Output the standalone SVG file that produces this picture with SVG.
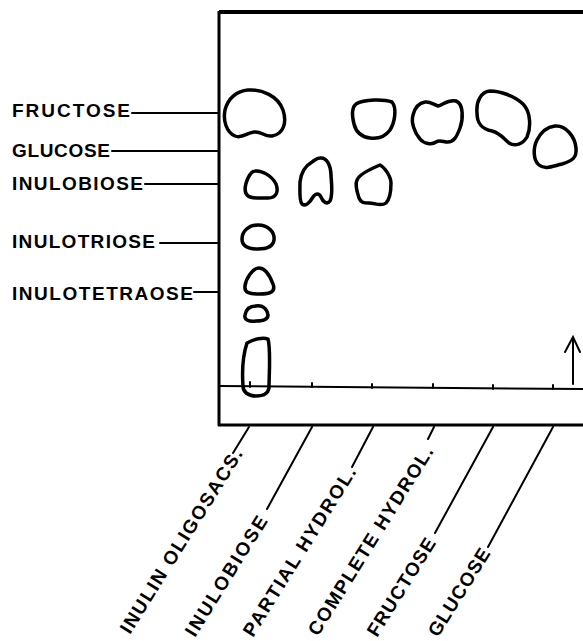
<svg xmlns="http://www.w3.org/2000/svg" width="583" height="641" viewBox="0 0 583 641">
<style>
text{font-family:"Liberation Sans",Arial,sans-serif;font-size:19px;font-weight:bold;fill:#000;}
.ln{stroke:#000;stroke-width:2;fill:none;stroke-linecap:round;}
.box{stroke:#000;stroke-width:3;fill:none;}
.spot{stroke:#000;stroke-width:3.5;fill:none;stroke-linejoin:round;}
</style>
<rect width="583" height="641" fill="#fff"/>
<g id="paper">
<line x1="219" y1="12" x2="583" y2="12" stroke="#000" stroke-width="4"/>
<line class="box" x1="219" y1="11" x2="219" y2="426"/>
<line class="box" x1="218" y1="425" x2="583" y2="425"/>
<line class="ln" x1="219" y1="386" x2="583" y2="389"/>
<path class="ln" d="M312,387v-4M372,388v-4M433,388v-4M493,389v-4M553,389v-4M250,387v-5"/>
<path class="ln" d="M573,384V338M565,352L573,337L580,352"/>
</g>
<g id="spots">
<path class="spot" d="M248,90 C262,89 278,96 283,110 C287,122 284,134 272,136 C264,137 262,131 254,132 C246,133 242,139 235,136 C226,132 223,120 225,110 C228,98 237,91 248,90 Z"/>
<path class="spot" d="M255,171 C262,170 272,176 276,184 C279,192 276,198 268,198 C260,198 252,199 248,196 C243,192 245,185 248,178 C250,174 252,171 255,171 Z"/>
<path class="spot" d="M258,225 C268,225 275,232 274,240 C273,247 266,249 258,249 C249,249 242,247 242,239 C242,231 249,225 258,225 Z"/>
<path class="spot" d="M259,268 C265,268 270,276 273,284 C276,292 270,294 260,294 C250,294 244,293 245,286 C246,278 253,268 259,268 Z"/>
<path class="spot" d="M256,306 C263,305 267,309 268,315 C268,320 262,321 256,321 C249,322 244,320 245,315 C246,309 250,306 256,306 Z"/>
<path class="spot" d="M247,343 C254,339 263,337 268,339 C271,350 269,375 269,388 C268,394 262,396 256,396 C248,396 243,392 243,386 C242,372 243,355 247,343 Z"/>
<path class="spot" d="M320,158 C327,157 331,166 331,176 C332,186 332,197 330,201 C327,205 323,202 321,197 C319,193 316,193 313,197 C310,202 306,207 302,204 C299,201 300,190 300,182 C301,173 305,166 312,162 C315,160 317,158 320,158 Z"/>
<path class="spot" d="M356,104 C364,99 384,99 392,102 C397,108 395,122 390,130 C385,137 378,139 370,138 C362,137 356,132 354,124 C352,116 351,108 356,104 Z"/>
<path class="spot" d="M380,165 C384,167 391,176 391,183 C391,192 389,200 386,203 C381,207 375,203 369,203 C364,203 361,203 359,198 C357,192 355,184 357,180 C359,175 368,170 380,165 Z"/>
<path class="spot" d="M425,102 C430,101 434,105 438,106 C443,105 448,99 456,101 C464,104 463,120 460,128 C457,136 454,143 446,142 C441,141 439,140 436,142 C432,145 424,144 420,139 C414,132 411,122 413,115 C415,107 419,103 425,102 Z"/>
<path class="spot" d="M490,91 C500,91 515,96 523,104 C531,112 531,128 527,137 C523,144 515,147 509,143 C503,138 500,133 492,131 C482,129 477,124 477,113 C476,101 481,92 490,91 Z"/>
<path class="spot" d="M555,126 C566,125 575,137 576,148 C577,158 572,161 562,164 C553,166 545,170 539,165 C533,160 533,148 537,140 C541,132 547,127 555,126 Z"/>
</g>
<g id="connectors">
<line class="ln" x1="132" y1="113" x2="219" y2="113"/>
<line class="ln" x1="112" y1="151" x2="219" y2="151"/>
<line class="ln" x1="145" y1="184" x2="219" y2="184"/>
<line class="ln" x1="160" y1="243" x2="219" y2="243"/>
<line class="ln" x1="194" y1="292" x2="219" y2="292"/>
<line class="ln" x1="249" y1="427" x2="233" y2="453"/>
<line class="ln" x1="312" y1="427" x2="267" y2="509"/>
<line class="ln" x1="373" y1="427" x2="352" y2="467"/>
<line class="ln" x1="434" y1="427" x2="428" y2="439"/>
<line class="ln" x1="493" y1="427" x2="435" y2="533"/>
<line class="ln" x1="553" y1="427" x2="488" y2="547"/>
</g>
<g id="band-labels">
<text id="lbl-fructose" x="12" y="117" textLength="118" lengthAdjust="spacing">FRUCTOSE</text>
<text id="lbl-glucose" x="12" y="157" textLength="98" lengthAdjust="spacing">GLUCOSE</text>
<text id="lbl-inulobiose" x="12" y="190" textLength="131" lengthAdjust="spacing">INULOBIOSE</text>
<text id="lbl-inulotriose" x="12" y="248" textLength="143" lengthAdjust="spacing">INULOTRIOSE</text>
<text id="lbl-inulotetraose" x="12" y="300" textLength="181" lengthAdjust="spacing">INULOTETRAOSE</text>
</g>
<g id="lane-labels">
<text transform="translate(130,635) rotate(-58)" textLength="214" lengthAdjust="spacing">INULIN OLIGOSACS.</text>
<text transform="translate(195,638) rotate(-58)" textLength="138" lengthAdjust="spacing">INULOBIOSE</text>
<text transform="translate(253,638) rotate(-58)" textLength="196" lengthAdjust="spacing">PARTIAL HYDROL.</text>
<text transform="translate(318,637) rotate(-58)" textLength="219" lengthAdjust="spacing">COMPLETE HYDROL.</text>
<text transform="translate(377,638) rotate(-58)" textLength="112" lengthAdjust="spacing">FRUCTOSE</text>
<text transform="translate(438,638) rotate(-58)" textLength="100" lengthAdjust="spacing">GLUCOSE</text>
</g>
</svg>
